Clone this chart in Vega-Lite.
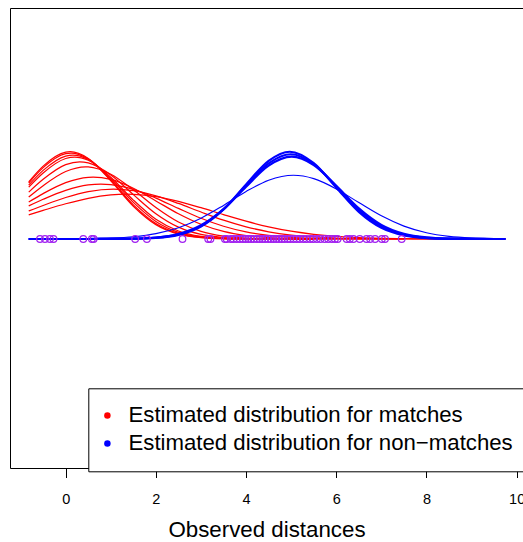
{
"$schema": "https://vega.github.io/schema/vega-lite/v6.json",
"width": 513, "height": 460,
"autosize": {"type": "none"},
"padding": {"left": 10, "top": 8, "right": 0, "bottom": 74},
"background": "white",
"config": {"font": "Liberation Sans", "view": {"stroke": null}},
"resolve": {"axis": {"x": "independent", "y": "independent"}},
"datasets": {
"red": [
{"c":1,"g":"m","x":-0.82,"y":0.2613},{"c":1,"g":"m","x":-0.5,"y":0.3332},{"c":1,"g":"m","x":0,"y":0.3969},{"c":1,"g":"m","x":0.1,"y":0.3989},{"c":1,"g":"m","x":0.5,"y":0.3683},{"c":1,"g":"m","x":1,"y":0.2661},{"c":1,"g":"m","x":1.5,"y":0.1497},{"c":1,"g":"m","x":2,"y":0.0656},{"c":1,"g":"m","x":2.5,"y":0.0224},{"c":1,"g":"m","x":3,"y":0.006},{"c":1,"g":"m","x":3.5,"y":0.0012},{"c":1,"g":"m","x":4,"y":0.0002},{"c":1,"g":"m","x":4.5,"y":0},{"c":1,"g":"m","x":5,"y":0},{"c":1,"g":"m","x":5.5,"y":0},
{"c":2,"g":"m","x":-0.82,"y":0.256},{"c":2,"g":"m","x":-0.5,"y":0.3261},{"c":2,"g":"m","x":0,"y":0.3903},{"c":2,"g":"m","x":0.12,"y":0.393},{"c":2,"g":"m","x":0.5,"y":0.3664},{"c":2,"g":"m","x":1,"y":0.2699},{"c":2,"g":"m","x":1.5,"y":0.1559},{"c":2,"g":"m","x":2,"y":0.0707},{"c":2,"g":"m","x":2.5,"y":0.0252},{"c":2,"g":"m","x":3,"y":0.007},{"c":2,"g":"m","x":3.5,"y":0.0015},{"c":2,"g":"m","x":4,"y":0.0003},{"c":2,"g":"m","x":4.5,"y":0},{"c":2,"g":"m","x":5,"y":0},{"c":2,"g":"m","x":5.5,"y":0},
{"c":3,"g":"m","x":-0.82,"y":0.2461},{"c":3,"g":"m","x":-0.5,"y":0.3136},{"c":3,"g":"m","x":0,"y":0.3791},{"c":3,"g":"m","x":0.16,"y":0.3836},{"c":3,"g":"m","x":0.5,"y":0.3637},{"c":3,"g":"m","x":1,"y":0.2768},{"c":3,"g":"m","x":1.5,"y":0.1672},{"c":3,"g":"m","x":2,"y":0.0802},{"c":3,"g":"m","x":2.5,"y":0.0305},{"c":3,"g":"m","x":3,"y":0.0092},{"c":3,"g":"m","x":3.5,"y":0.0022},{"c":3,"g":"m","x":4,"y":0.0004},{"c":3,"g":"m","x":4.5,"y":0.0001},{"c":3,"g":"m","x":5,"y":0},{"c":3,"g":"m","x":5.5,"y":0},
{"c":4,"g":"m","x":-0.82,"y":0.2368},{"c":4,"g":"m","x":-0.5,"y":0.3018},{"c":4,"g":"m","x":0,"y":0.368},{"c":4,"g":"m","x":0.2,"y":0.3746},{"c":4,"g":"m","x":0.5,"y":0.36},{"c":4,"g":"m","x":1,"y":0.2825},{"c":4,"g":"m","x":1.5,"y":0.1778},{"c":4,"g":"m","x":2,"y":0.0898},{"c":4,"g":"m","x":2.5,"y":0.0364},{"c":4,"g":"m","x":3,"y":0.0118},{"c":4,"g":"m","x":3.5,"y":0.0031},{"c":4,"g":"m","x":4,"y":0.0006},{"c":4,"g":"m","x":4.5,"y":0.0001},{"c":4,"g":"m","x":5,"y":0},{"c":4,"g":"m","x":5.5,"y":0},
{"c":5,"g":"m","x":-0.82,"y":0.2141},{"c":5,"g":"m","x":-0.5,"y":0.273},{"c":5,"g":"m","x":0,"y":0.34},{"c":5,"g":"m","x":0.31,"y":0.353},{"c":5,"g":"m","x":0.5,"y":0.3481},{"c":5,"g":"m","x":1,"y":0.293},{"c":5,"g":"m","x":1.5,"y":0.2028},{"c":5,"g":"m","x":2,"y":0.1154},{"c":5,"g":"m","x":2.5,"y":0.054},{"c":5,"g":"m","x":3,"y":0.0208},{"c":5,"g":"m","x":3.5,"y":0.0066},{"c":5,"g":"m","x":4,"y":0.0017},{"c":5,"g":"m","x":4.5,"y":0.0004},{"c":5,"g":"m","x":5,"y":0.0001},{"c":5,"g":"m","x":5.5,"y":0},
{"c":6,"g":"m","x":-0.82,"y":0.1917},{"c":6,"g":"m","x":-0.5,"y":0.2438},{"c":6,"g":"m","x":0,"y":0.3086},{"c":6,"g":"m","x":0.44,"y":0.3297},{"c":6,"g":"m","x":0.5,"y":0.3293},{"c":6,"g":"m","x":1,"y":0.2962},{"c":6,"g":"m","x":1.5,"y":0.2246},{"c":6,"g":"m","x":2,"y":0.1436},{"c":6,"g":"m","x":2.5,"y":0.0774},{"c":6,"g":"m","x":3,"y":0.0352},{"c":6,"g":"m","x":3.5,"y":0.0135},{"c":6,"g":"m","x":4,"y":0.0043},{"c":6,"g":"m","x":4.5,"y":0.0012},{"c":6,"g":"m","x":5,"y":0.0003},{"c":6,"g":"m","x":5.5,"y":0.0001},{"c":6,"g":"m","x":6,"y":0},
{"c":7,"g":"m","x":-0.82,"y":0.1691},{"c":7,"g":"m","x":-0.5,"y":0.2075},{"c":7,"g":"m","x":0,"y":0.2576},{"c":7,"g":"m","x":0.5,"y":0.2821},{"c":7,"g":"m","x":0.61,"y":0.2829},{"c":7,"g":"m","x":1,"y":0.2723},{"c":7,"g":"m","x":1.5,"y":0.2318},{"c":7,"g":"m","x":2,"y":0.174},{"c":7,"g":"m","x":2.5,"y":0.1152},{"c":7,"g":"m","x":3,"y":0.0672},{"c":7,"g":"m","x":3.5,"y":0.0346},{"c":7,"g":"m","x":4,"y":0.0157},{"c":7,"g":"m","x":4.5,"y":0.0063},{"c":7,"g":"m","x":5,"y":0.0022},{"c":7,"g":"m","x":5.5,"y":0.0007},{"c":7,"g":"m","x":6,"y":0.0002},{"c":7,"g":"m","x":6.5,"y":0},{"c":7,"g":"m","x":7,"y":0},{"c":7,"g":"m","x":7.5,"y":0},
{"c":8,"g":"m","x":-0.82,"y":0.1512},{"c":8,"g":"m","x":-0.5,"y":0.1815},{"c":8,"g":"m","x":0,"y":0.2224},{"c":8,"g":"m","x":0.5,"y":0.247},{"c":8,"g":"m","x":0.78,"y":0.2509},{"c":8,"g":"m","x":1,"y":0.2485},{"c":8,"g":"m","x":1.5,"y":0.2265},{"c":8,"g":"m","x":2,"y":0.1869},{"c":8,"g":"m","x":2.5,"y":0.1398},{"c":8,"g":"m","x":3,"y":0.0947},{"c":8,"g":"m","x":3.5,"y":0.0581},{"c":8,"g":"m","x":4,"y":0.0323},{"c":8,"g":"m","x":4.5,"y":0.0163},{"c":8,"g":"m","x":5,"y":0.0074},{"c":8,"g":"m","x":5.5,"y":0.0031},{"c":8,"g":"m","x":6,"y":0.0011},{"c":8,"g":"m","x":6.5,"y":0.0004},{"c":8,"g":"m","x":7,"y":0.0001},{"c":8,"g":"m","x":7.5,"y":0},
{"c":9,"g":"m","x":-0.82,"y":0.128},{"c":9,"g":"m","x":-0.5,"y":0.1532},{"c":9,"g":"m","x":0,"y":0.1897},{"c":9,"g":"m","x":0.5,"y":0.2165},{"c":9,"g":"m","x":1.06,"y":0.2279},{"c":9,"g":"m","x":1.5,"y":0.2208},{"c":9,"g":"m","x":2,"y":0.1973},{"c":9,"g":"m","x":2.5,"y":0.1624},{"c":9,"g":"m","x":3,"y":0.1233},{"c":9,"g":"m","x":3.5,"y":0.0862},{"c":9,"g":"m","x":4,"y":0.0556},{"c":9,"g":"m","x":4.5,"y":0.033},{"c":9,"g":"m","x":5,"y":0.0181},{"c":9,"g":"m","x":5.5,"y":0.0091},{"c":9,"g":"m","x":6,"y":0.0042},{"c":9,"g":"m","x":6.5,"y":0.0018},{"c":9,"g":"m","x":7,"y":0.0007},{"c":9,"g":"m","x":7.5,"y":0.0003},{"c":9,"g":"m","x":8,"y":0.0001},{"c":9,"g":"m","x":8.5,"y":0},{"c":9,"g":"m","x":9,"y":0},{"c":9,"g":"m","x":9.5,"y":0},{"c":9,"g":"m","x":9.75,"y":0},
{"c":10,"g":"m","x":-0.82,"y":0.1102},{"c":10,"g":"m","x":-0.5,"y":0.1305},{"c":10,"g":"m","x":0,"y":0.161},{"c":10,"g":"m","x":0.5,"y":0.1861},{"c":10,"g":"m","x":1,"y":0.2013},{"c":10,"g":"m","x":1.35,"y":0.2046},{"c":10,"g":"m","x":1.5,"y":0.204},{"c":10,"g":"m","x":2,"y":0.1935},{"c":10,"g":"m","x":2.5,"y":0.1719},{"c":10,"g":"m","x":3,"y":0.143},{"c":10,"g":"m","x":3.5,"y":0.1114},{"c":10,"g":"m","x":4,"y":0.0813},{"c":10,"g":"m","x":4.5,"y":0.0555},{"c":10,"g":"m","x":5,"y":0.0355},{"c":10,"g":"m","x":5.5,"y":0.0213},{"c":10,"g":"m","x":6,"y":0.0119},{"c":10,"g":"m","x":6.5,"y":0.0063},{"c":10,"g":"m","x":7,"y":0.0031},{"c":10,"g":"m","x":7.5,"y":0.0014},{"c":10,"g":"m","x":8,"y":0.0006},{"c":10,"g":"m","x":8.5,"y":0.0002},{"c":10,"g":"m","x":9,"y":0.0001},{"c":10,"g":"m","x":9.5,"y":0},{"c":10,"g":"m","x":9.75,"y":0}
],
"blueThick": [
{"c":11,"g":"n","x":-0.82,"y":0},{"c":11,"g":"n","x":0,"y":0},{"c":11,"g":"n","x":0.5,"y":0},{"c":11,"g":"n","x":1,"y":0.0002},{"c":11,"g":"n","x":1.5,"y":0.001},{"c":11,"g":"n","x":2,"y":0.0049},{"c":11,"g":"n","x":2.5,"y":0.0189},{"c":11,"g":"n","x":3,"y":0.0573},{"c":11,"g":"n","x":3.5,"y":0.1354},{"c":11,"g":"n","x":4,"y":0.2492},{"c":11,"g":"n","x":4.5,"y":0.3572},{"c":11,"g":"n","x":4.97,"y":0.3989},{"c":11,"g":"n","x":5.5,"y":0.3466},{"c":11,"g":"n","x":6,"y":0.2347},{"c":11,"g":"n","x":6.5,"y":0.1237},{"c":11,"g":"n","x":7,"y":0.0508},{"c":11,"g":"n","x":7.5,"y":0.0162},{"c":11,"g":"n","x":8,"y":0.004},{"c":11,"g":"n","x":8.5,"y":0.0008},{"c":11,"g":"n","x":9,"y":0.0001},{"c":11,"g":"n","x":9.5,"y":0},{"c":11,"g":"n","x":9.75,"y":0},
{"c":12,"g":"n","x":-0.82,"y":0},{"c":12,"g":"n","x":0,"y":0},{"c":12,"g":"n","x":0.5,"y":0},{"c":12,"g":"n","x":1,"y":0.0002},{"c":12,"g":"n","x":1.5,"y":0.0012},{"c":12,"g":"n","x":2,"y":0.0057},{"c":12,"g":"n","x":2.5,"y":0.0208},{"c":12,"g":"n","x":3,"y":0.0599},{"c":12,"g":"n","x":3.5,"y":0.136},{"c":12,"g":"n","x":4,"y":0.244},{"c":12,"g":"n","x":4.5,"y":0.3459},{"c":12,"g":"n","x":4.99,"y":0.3873},{"c":12,"g":"n","x":5.5,"y":0.3426},{"c":12,"g":"n","x":6,"y":0.2395},{"c":12,"g":"n","x":6.5,"y":0.1322},{"c":12,"g":"n","x":7,"y":0.0577},{"c":12,"g":"n","x":7.5,"y":0.0199},{"c":12,"g":"n","x":8,"y":0.0054},{"c":12,"g":"n","x":8.5,"y":0.0012},{"c":12,"g":"n","x":9,"y":0.0002},{"c":12,"g":"n","x":9.5,"y":0},{"c":12,"g":"n","x":9.75,"y":0},
{"c":13,"g":"n","x":-0.82,"y":0},{"c":13,"g":"n","x":0,"y":0},{"c":13,"g":"n","x":0.5,"y":0},{"c":13,"g":"n","x":1,"y":0.0003},{"c":13,"g":"n","x":1.5,"y":0.0016},{"c":13,"g":"n","x":2,"y":0.0067},{"c":13,"g":"n","x":2.5,"y":0.0228},{"c":13,"g":"n","x":3,"y":0.0624},{"c":13,"g":"n","x":3.5,"y":0.1364},{"c":13,"g":"n","x":4,"y":0.239},{"c":13,"g":"n","x":4.5,"y":0.3352},{"c":13,"g":"n","x":5.01,"y":0.3763},{"c":13,"g":"n","x":5.5,"y":0.3382},{"c":13,"g":"n","x":6,"y":0.2433},{"c":13,"g":"n","x":6.5,"y":0.1401},{"c":13,"g":"n","x":7,"y":0.0646},{"c":13,"g":"n","x":7.5,"y":0.0239},{"c":13,"g":"n","x":8,"y":0.007},{"c":13,"g":"n","x":8.5,"y":0.0017},{"c":13,"g":"n","x":9,"y":0.0003},{"c":13,"g":"n","x":9.5,"y":0},{"c":13,"g":"n","x":9.75,"y":0}
],
"blueThin": [
{"c":14,"g":"n","x":-0.82,"y":0},{"c":14,"g":"n","x":-0.5,"y":0.0001},{"c":14,"g":"n","x":0,"y":0.0003},{"c":14,"g":"n","x":0.5,"y":0.0012},{"c":14,"g":"n","x":1,"y":0.0037},{"c":14,"g":"n","x":1.5,"y":0.0101},{"c":14,"g":"n","x":2,"y":0.0244},{"c":14,"g":"n","x":2.5,"y":0.0515},{"c":14,"g":"n","x":3,"y":0.0951},{"c":14,"g":"n","x":3.5,"y":0.1536},{"c":14,"g":"n","x":4,"y":0.2171},{"c":14,"g":"n","x":4.5,"y":0.2687},{"c":14,"g":"n","x":5.05,"y":0.2912},{"c":14,"g":"n","x":5.5,"y":0.2759},{"c":14,"g":"n","x":6,"y":0.229},{"c":14,"g":"n","x":6.5,"y":0.1663},{"c":14,"g":"n","x":7,"y":0.1057},{"c":14,"g":"n","x":7.5,"y":0.0589},{"c":14,"g":"n","x":8,"y":0.0287},{"c":14,"g":"n","x":8.5,"y":0.0122},{"c":14,"g":"n","x":9,"y":0.0046},{"c":14,"g":"n","x":9.5,"y":0.0015},{"c":14,"g":"n","x":9.75,"y":0.0008}
],
"pts": [
{"x":-0.57,"y":0},{"x":-0.46,"y":0},{"x":-0.35,"y":0},{"x":-0.27,"y":0},{"x":0.39,"y":0},{"x":0.58,"y":0},{"x":0.62,"y":0},{"x":1.54,"y":0},{"x":1.8,"y":0},{"x":2.59,"y":0},{"x":3.16,"y":0},{"x":3.21,"y":0},{"x":3.53,"y":0},{"x":3.57,"y":0},{"x":3.66,"y":0},{"x":3.72,"y":0},{"x":3.79,"y":0},{"x":3.86,"y":0},{"x":3.93,"y":0},{"x":3.99,"y":0},{"x":4.05,"y":0},{"x":4.11,"y":0},{"x":4.17,"y":0},{"x":4.24,"y":0},{"x":4.3,"y":0},{"x":4.36,"y":0},{"x":4.42,"y":0},{"x":4.49,"y":0},{"x":4.55,"y":0},{"x":4.61,"y":0},{"x":4.67,"y":0},{"x":4.73,"y":0},{"x":4.79,"y":0},{"x":4.85,"y":0},{"x":4.92,"y":0},{"x":4.98,"y":0},{"x":5.05,"y":0},{"x":5.12,"y":0},{"x":5.19,"y":0},{"x":5.27,"y":0},{"x":5.34,"y":0},{"x":5.42,"y":0},{"x":5.49,"y":0},{"x":5.57,"y":0},{"x":5.65,"y":0},{"x":5.74,"y":0},{"x":5.82,"y":0},{"x":5.9,"y":0},{"x":5.97,"y":0},{"x":6.03,"y":0},{"x":6.23,"y":0},{"x":6.3,"y":0},{"x":6.38,"y":0},{"x":6.52,"y":0},{"x":6.67,"y":0},{"x":6.75,"y":0},{"x":6.86,"y":0},{"x":7.01,"y":0},{"x":7.08,"y":0},{"x":7.45,"y":0}
]
},
"layer": [
{
"data": {"name": "red"},
"mark": {"type": "line", "interpolate": "monotone", "strokeWidth": 1.25},
"encoding": {
"x": {"field": "x", "type": "quantitative", "scale": {"domain": [-1.235, 10.14], "nice": false, "zero": false},
"axis": {"orient": "bottom", "values": [0, 2, 4, 6, 8, 10], "grid": false, "domain": true, "domainColor": "#000", "domainWidth": 1, "ticks": true, "tickColor": "#000", "tickSize": 9.5, "tickWidth": 1, "labelFontSize": 14.5, "labelColor": "#000", "labelPadding": 14.5, "labelFlush": false, "labelOverlap": false, "labelBound": false, "title": "Observed distances", "titleFontSize": 22.3, "titleFontWeight": "normal", "titleColor": "#000", "titleBaseline": "alphabetic", "titleY": 68.7}},
"y": {"field": "y", "type": "quantitative", "scale": {"domain": [-1.047, 1.056], "nice": false, "zero": false},
"axis": {"orient": "left", "domain": true, "domainColor": "#000", "domainWidth": 1, "ticks": false, "labels": false, "grid": false, "title": null}},
"detail": {"field": "c", "type": "nominal"},
"color": {"field": "g", "type": "nominal", "scale": {"domain": ["m", "n"], "range": ["#FF0000", "#0000FF"]},
"legend": {"orient": "none", "legendX": 78.3, "legendY": 380.3, "direction": "vertical", "title": null, "padding": 16, "fillColor": "#ffffff", "strokeColor": "#000000", "labelFontSize": 22.2, "labelColor": "#000", "labelOffset": 10, "symbolOffset": -8, "rowPadding": 5, "labelLimit": 1000, "symbolType": "circle", "symbolSize": 42, "symbolStrokeWidth": 0,
"labelExpr": "datum.value == 'm' ? 'Estimated distribution for matches' : 'Estimated distribution for non−matches'",
"encode": {"symbols": {"update": {"fill": {"scale": "color", "field": "value"}, "stroke": {"value": "transparent"}}}}}}
}
},
{
"data": {"name": "blueThick"},
"mark": {"type": "line", "interpolate": "monotone", "strokeWidth": 2.2},
"encoding": {
"x": {"field": "x", "type": "quantitative", "axis": null},
"y": {"field": "y", "type": "quantitative", "axis": null},
"detail": {"field": "c", "type": "nominal"},
"color": {"field": "g", "type": "nominal"}
}
},
{
"data": {"name": "blueThin"},
"mark": {"type": "line", "interpolate": "monotone", "strokeWidth": 1.15},
"encoding": {
"x": {"field": "x", "type": "quantitative", "axis": null},
"y": {"field": "y", "type": "quantitative", "axis": null},
"detail": {"field": "c", "type": "nominal"},
"color": {"field": "g", "type": "nominal"}
}
},
{
"data": {"name": "pts"},
"mark": {"type": "point", "shape": "circle", "filled": false, "stroke": "#A020F0", "strokeWidth": 1.2, "size": 44, "opacity": 1},
"encoding": {
"x": {"field": "x", "type": "quantitative", "axis": {"orient": "top", "domain": true, "domainColor": "#000", "domainWidth": 1, "ticks": false, "labels": false, "grid": false, "title": null}},
"y": {"field": "y", "type": "quantitative", "axis": null}
}
}
]
}
